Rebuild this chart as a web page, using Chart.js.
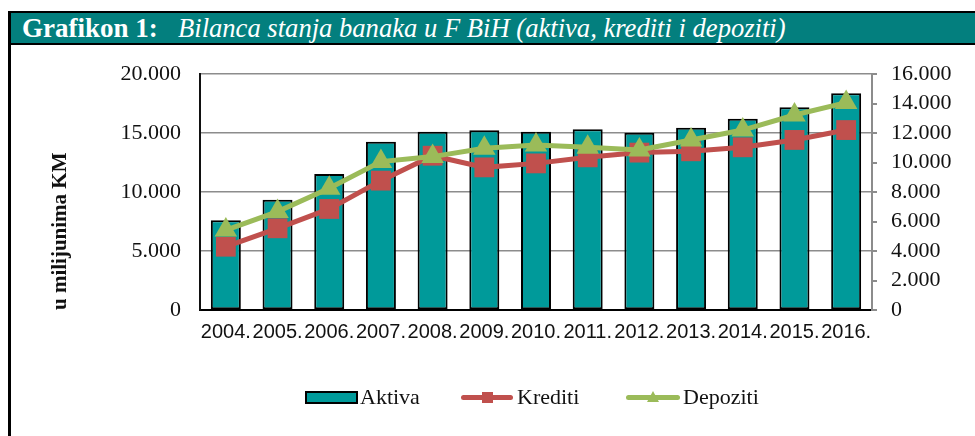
<!DOCTYPE html>
<html>
<head>
<meta charset="utf-8">
<script src="https://cdn.jsdelivr.net/npm/chart.js@4/dist/chart.umd.min.js"></script>
<style>
  html, body { margin: 0; padding: 0; background: #fff; width: 975px; height: 436px; overflow: hidden; position: relative; }
  #chart { position: absolute; left: 0; top: 0; }
  .blk { position: absolute; background: #000; }
  #titlebar { position: absolute; left: 11px; top: 13px; width: 964px; height: 30px; background: #037f7e; }
  .tt { position: absolute; top: 13px; height: 30px; line-height: 30px; color: #fff; font-family: "Liberation Serif", "Times New Roman", serif; white-space: nowrap; }
  .lg { position: absolute; font-family: "Liberation Serif", "Times New Roman", serif; font-size: 22px; color: #111; top: 384px; line-height: 26px; white-space: nowrap; }
</style>
</head>
<body>
<canvas id="chart" width="975" height="436"></canvas>
<div id="titlebar"></div>
<div class="blk" style="left:8px;top:11px;width:3px;height:425px;"></div>
<div class="blk" style="left:8px;top:11px;width:967px;height:2px;"></div>
<div class="blk" style="left:8px;top:43px;width:967px;height:2px;"></div>
<div class="tt" style="left:22px;font-weight:bold;font-size:27px;">Grafikon 1:</div>
<div class="tt" style="left:178px;font-style:italic;font-size:26.6px;">Bilanca stanja banaka u F BiH (aktiva, krediti i depoziti)</div>

<div style="position:absolute;left:305px;top:391px;width:49px;height:9px;background:#009a9a;border:2px solid #000;"></div>
<div class="lg" style="left:360px;">Aktiva</div>
<div style="position:absolute;left:461px;top:395px;width:52px;height:5px;background:#c0504d;border-radius:3px;"></div>
<div style="position:absolute;left:482px;top:392px;width:11px;height:11px;background:#c0504d;"></div>
<div class="lg" style="left:517px;">Krediti</div>
<div style="position:absolute;left:626px;top:395px;width:54px;height:5px;background:#9bbb59;border-radius:3px;"></div>
<div style="position:absolute;left:647px;top:391px;width:0;height:0;border-left:6px solid transparent;border-right:6px solid transparent;border-bottom:11px solid #9bbb59;"></div>
<div class="lg" style="left:683px;">Depoziti</div>

<script>
const years = ['2004.', '2005.', '2006.', '2007.', '2008.', '2009.', '2010.', '2011.', '2012.', '2013.', '2014.', '2015.', '2016.'];
const aktiva = [7600, 9350, 11520, 14260, 15110, 15230, 15110, 15310, 15030, 15450, 16210, 17180, 18360];
const krediti = [4290, 5540, 6850, 8770, 10460, 9670, 9940, 10350, 10670, 10760, 11030, 11530, 12200];
const depoziti = [5420, 6670, 8250, 10060, 10400, 10960, 11190, 11030, 10850, 11530, 12200, 13220, 14060];
const leftTicks = [0, 5000, 10000, 15000, 20000];
const rightTicks = [0, 2000, 4000, 6000, 8000, 10000, 12000, 14000, 16000];

function fmt(v) { return String(v).replace(/\B(?=(\d{3})+(?!\d))/g, '.'); }

const serif = '"Liberation Serif", "Times New Roman", serif';
const sans = '"Liberation Sans", Arial, sans-serif';

new Chart(document.getElementById('chart'), {
  data: {
    labels: years,
    datasets: [
      {
        type: 'bar', label: 'Aktiva', data: aktiva, yAxisID: 'y', order: 3,
        backgroundColor: '#009a9a', borderColor: '#000', borderWidth: 2, borderSkipped: false,
        barPercentage: 0.58, categoryPercentage: 1
      },
      {
        type: 'line', label: 'Krediti', data: krediti, yAxisID: 'y1', order: 2,
        borderColor: '#c0504d', backgroundColor: '#c0504d', borderWidth: 5,
        pointStyle: 'rect', pointRadius: 14, pointBorderWidth: 0, tension: 0
      },
      {
        type: 'line', label: 'Depoziti', data: depoziti, yAxisID: 'y1', order: 1,
        borderColor: '#9bbb59', backgroundColor: '#9bbb59', borderWidth: 5,
        pointStyle: 'triangle', pointRadius: 13, pointBorderWidth: 0, tension: 0
      }
    ]
  },
  options: {
    responsive: false,
    animation: false,
    layout: { padding: { top: 74, left: 0, right: 0, bottom: 0 } },
    plugins: { legend: { display: false }, tooltip: { enabled: false } },
    scales: {
      x: {
        position: 'bottom',
        grid: { display: false, drawTicks: false },
        border: { display: true, color: '#000', width: 2 },
        ticks: { font: { family: sans, size: 20 }, color: '#111', padding: 10, maxRotation: 0, autoSkip: false },
        afterFit(s) { s.height = 126; }
      },
      y: {
        position: 'left', min: 0, max: 20000,
        afterBuildTicks(s) { s.ticks = leftTicks.map(v => ({ value: v })); },
        grid: { color: '#8c8c8c', lineWidth: 1.5, drawTicks: false },
        border: { display: true, color: '#111', width: 2 },
        ticks: { font: { family: serif, size: 22 }, color: '#111', padding: 19, callback: v => fmt(v) },
        title: { display: true, text: 'u milijunima KM', align: 'start', color: '#111',
                 font: { family: serif, size: 21, weight: 'bold' }, padding: { top: 48, bottom: 0 } },
        afterFit(s) { s.width = 200; }
      },
      y1: {
        position: 'right', min: 0, max: 16000,
        afterBuildTicks(s) { s.ticks = rightTicks.map(v => ({ value: v })); },
        grid: { drawOnChartArea: false, drawTicks: true, tickLength: 5, color: '#8c8c8c', lineWidth: 2 },
        border: { display: true, color: '#8c8c8c', width: 2 },
        ticks: { font: { family: serif, size: 22 }, color: '#111', padding: 14, callback: v => fmt(v) },
        afterFit(s) { s.width = 103; }
      }
    }
  }
});
</script>
</body>
</html>
